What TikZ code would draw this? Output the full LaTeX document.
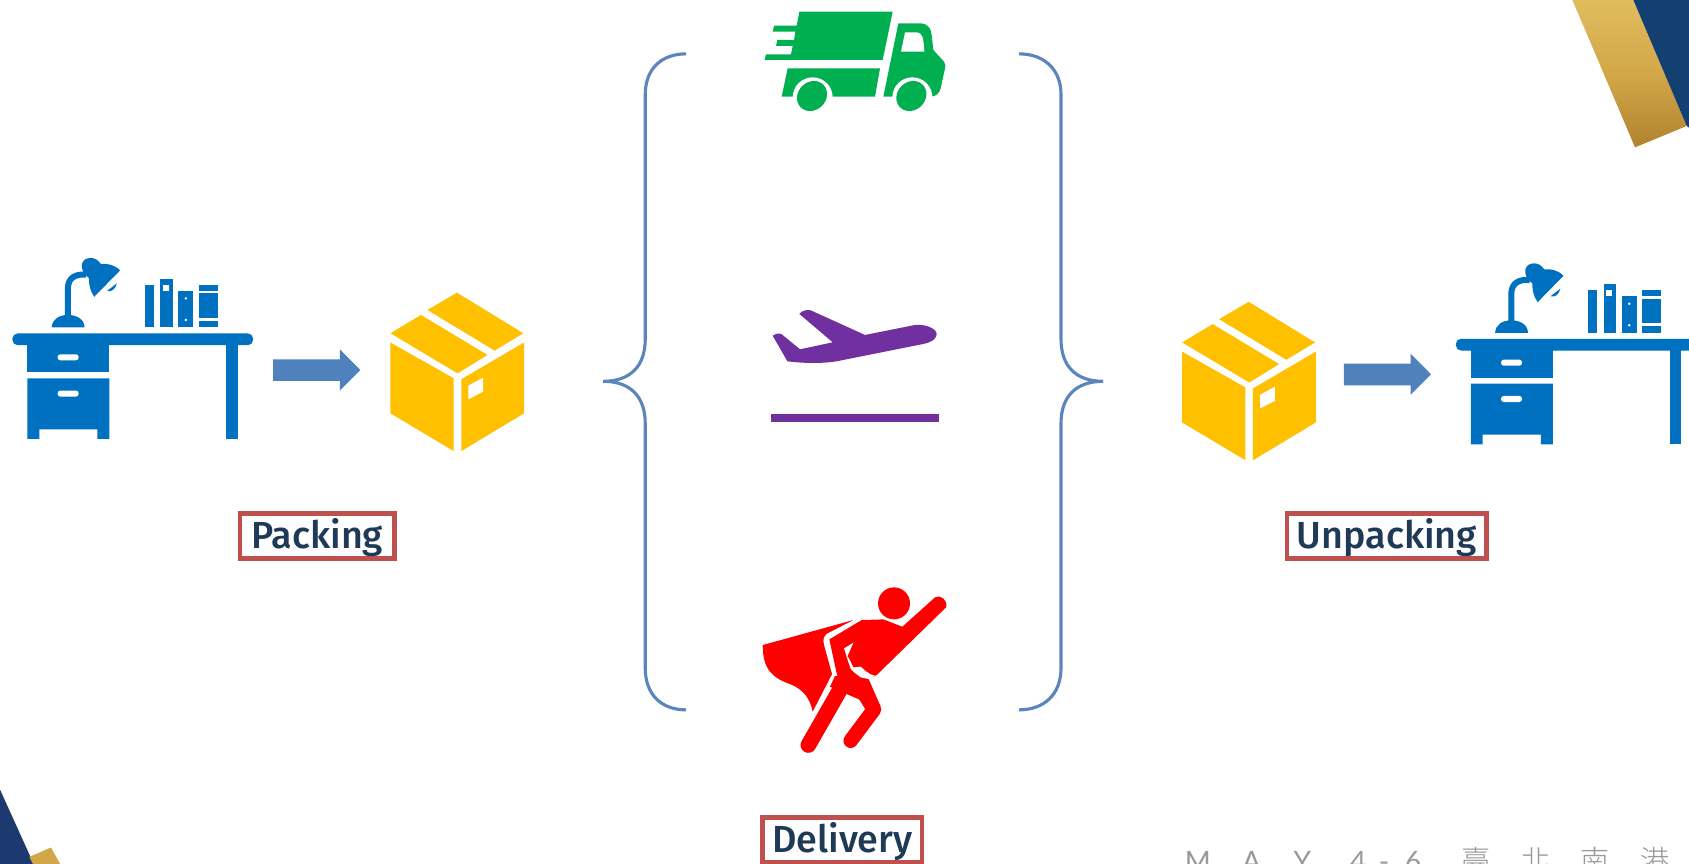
\documentclass[tikz,border=0pt]{standalone}
\usepackage{fontspec}
\newfontfamily\labfont{Fira Sans Medium}
\newfontfamily\footfont{Lato}
\newfontfamily\cjkfoot{Noto Sans CJK TC Light}
\definecolor{deskblue}{HTML}{0070C0}
\definecolor{boxgold}{HTML}{FFC000}
\definecolor{arrowblue}{HTML}{4F81BD}
\definecolor{bracecol}{HTML}{5B85BD}
\definecolor{framered}{HTML}{C0504D}
\definecolor{labink}{HTML}{1F3A56}
\definecolor{truckgreen}{HTML}{00B050}
\definecolor{planepurple}{HTML}{7030A0}
\definecolor{cornerblue}{HTML}{134070}
\definecolor{cornerblueb}{HTML}{1C3A70}
\definecolor{goldtop}{HTML}{E0BC5E}
\definecolor{goldbot}{HTML}{B0822E}
\definecolor{goldflat}{HTML}{D2A748}
\tikzset{
  x=1pt,y=-1pt,
  labelframe/.style={draw=framered,line width=4.2pt,fill=white,inner sep=0pt,text=labink,font=\labfont\fontsize{35}{38}\selectfont,anchor=center,minimum height=41.5pt,text height=32pt,text depth=8pt},
  bracestroke/.style={draw=bracecol,line width=2.9pt},
  footchar/.style={text=black!40,inner sep=0pt,anchor=base,font=\footfont\fontsize{26}{28}\selectfont},
  footcjk/.style={text=black!40,inner sep=0pt,anchor=base,font=\cjkfoot\fontsize{27}{28}\selectfont},
}
\newcommand{\deskicon}[2]{%
\begin{scope}[shift={(#1,#2)}]
 \fill[deskblue,rounded corners=5pt] (11.5,309.5) rectangle (235,320.5);
 \fill[deskblue] (25.5,316) rectangle (101.5,345.6);
 \fill[deskblue] (25.5,351.2) -- (101.5,351.2) -- (101.5,407.5) -- (90.5,407.5) -- (90.5,398.5) -- (36.5,398.5) -- (36.5,407.5) -- (25.5,407.5) -- cycle;
 \fill[white,rounded corners=2.5pt] (53.5,328.9) rectangle (73,334.5);
 \fill[white,rounded corners=2.5pt] (53.5,362.6) rectangle (73,368.2);
 \fill[deskblue] (210,316) rectangle (221,407.5);
 \fill[deskblue] (48,304) .. controls (48.5,296) and (55,292.4) .. (63,292.4) .. controls (71,292.4) and (78.3,296) .. (78.5,304) -- cycle;
 \draw[deskblue,line width=5.6pt] (63,294) -- (63,268) .. controls (63,258) and (70,254) .. (80,255);
 \fill[deskblue] (76,248) .. controls (75.5,241) and (80.5,239.5) .. (84.5,239.5) .. controls (88.5,239.5) and (91.5,242) .. (93.5,245) .. controls (100.5,244.5) and (106.5,246) .. (111.5,251) -- (87.5,275.5) .. controls (83.5,270) and (82.5,264) .. (82.5,258) .. controls (78.5,255) and (76.5,252) .. (76,248) -- cycle;
 \fill[deskblue] (99.5,270) .. controls (103.5,271.5) and (107.5,268) .. (108.5,263) -- cycle;
 \fill[deskblue] (134.5,264.6) rectangle (142.8,304);
 \fill[deskblue] (148.8,259) rectangle (160.2,304);
 \fill[white] (151.2,264.6) rectangle (156.8,270.1);
 \fill[deskblue] (165.5,270.1) rectangle (179.5,304);
 \fill[white] (172.5,277) circle (1.3pt) (172.5,297) circle (1.3pt);
 \fill[deskblue] (184.8,264.6) rectangle (202.2,270.1);
 \fill[deskblue] (184.8,272.3) rectangle (202.2,294.9);
 \fill[deskblue] (184.8,298) rectangle (202.2,304);
\end{scope}}
\newcommand{\boxicon}[2]{%
\begin{scope}[shift={(#1,#2)}]
 \fill[boxgold] (362.5,309.4) -- (390.8,292.4) -- (452.5,329.5) -- (424.8,346.6) -- cycle;
 \fill[boxgold] (396.8,287.8) -- (424.2,271.7) -- (485.8,309.4) -- (459.2,325.5) -- cycle;
 \fill[boxgold] (362.5,318) -- (421.2,351.2) -- (421.2,418.8) -- (362.5,383.7) -- cycle;
 \fill[boxgold] (428.2,352.1) -- (486.5,318) -- (486.5,383.7) -- (428.2,418.8) -- cycle;
 \fill[white] (434.8,358) -- (448.5,350.6) -- (448.5,363.6) -- (434.8,370.7) -- cycle;
\end{scope}}
\newcommand{\arrowicon}[2]{%
\begin{scope}[shift={(#1,#2)}]
 \fill[arrowblue] (253.5,333.6) -- (315.5,333.6) -- (315.5,324.3) -- (334.5,343.5) -- (315.5,362.6) -- (315.5,353.7) -- (253.5,353.7) -- cycle;
\end{scope}}
\begin{document}
\begin{tikzpicture}
\useasboundingbox (0,0) rectangle (1568,802);
\fill[white] (0,0) rectangle (1568,802);
\clip (0,0) rectangle (1568,802);
% corners
\begin{scope}[shift={(1420.4,0)},scale=0.30945]
 \shade[top color=goldtop,bottom color=goldbot,middle color=goldflat] (127,0) -- (310,0) -- (470,378) -- (315,442) -- cycle;
 \fill[cornerblue] (310,0) -- (480,0) -- (480,385) -- (470,378) -- cycle;
\end{scope}
\begin{scope}[shift={(0,715)},scale=0.30945]
 \fill[cornerblueb] (0,58) -- (105,290) -- (0,290) -- cycle;
 \fill[goldflat] (88,260) -- (153,232) -- (185,290) -- (103,290) -- cycle;
\end{scope}
% left and right groups
\deskicon{0}{0}
\arrowicon{0}{0}
\boxicon{0}{0}
\boxicon{735}{8.5}
\arrowicon{994}{4}
\deskicon{1340}{5}
% braces
\draw[bracestroke] (637,50) .. controls (614,50) and (599,64) .. (599,88) -- (599,315) .. controls (599,340) and (585,354) .. (560,354) .. controls (585,354) and (599,368) .. (599,393) -- (599,620) .. controls (599,645) and (614,659) .. (637,659);
\draw[bracestroke] (946,50) .. controls (969,50) and (985,64) .. (985,88) -- (985,315) .. controls (985,340) and (999,354) .. (1024,354) .. controls (999,354) and (985,368) .. (985,393) -- (985,620) .. controls (985,645) and (969,659) .. (946,659);
% truck
\begin{scope}[shift={(687,0)},scale=0.30945]
 \fill[truckgreen] (178,35) -- (458,35) -- (428,180) -- (74,180) -- (78,163) -- (153,163) -- (158,138) -- (108,138) -- (112,120) -- (162,120) -- (166,95) -- (98,95) -- (102,77) -- (170,77) -- cycle;
 \fill[truckgreen] (143,205) -- (420,205) -- (405,290) -- (125,290) -- cycle;
 \fill[truckgreen] (475,70) -- (540,70) .. controls (562,70) and (574,85) .. (575,105) -- (580,150) -- (612,185) .. controls (618,192) and (616,200) .. (615,205) -- (602,265) .. controls (598,280) and (588,290) .. (570,290) -- (430,290) -- cycle;
 \fill[white] (495,97) -- (530,97) .. controls (545,97) and (551,110) .. (553,155) -- (483,155) -- cycle;
 \fill[white] (218,292) circle (60);
 \fill[white] (517,292) circle (60);
 \fill[truckgreen,shift={(216,288)},rotate=45] (0,0) ellipse (48 and 42);
 \fill[truckgreen,shift={(514,288)},rotate=45] (0,0) ellipse (48 and 42);
\end{scope}
% plane
\begin{scope}[shift={(696.3,269.2)},scale=0.30945]
 \fill[planepurple] (68,137) .. controls (75,132) and (85,128) .. (95,133) -- (150,178) -- (248,157) -- (148,72) .. controls (155,63) and (168,58) .. (182,61) -- (345,135) -- (495,105) .. controls (525,102) and (560,115) .. (560,133) .. controls (558,150) and (540,158) .. (520,162) -- (270,212) .. controls (220,222) and (160,220) .. (112,214) -- cycle;
 \fill[planepurple] (62,372) rectangle (568,395);
\end{scope}
% hero
\begin{scope}[shift={(687,529.2)},scale=0.30945]
 \fill[red] (68,225) -- (340,150) -- (262,190) .. controls (250,198) and (248,210) .. (252,225) -- (276,312) -- (218,425) .. controls (210,385) and (190,358) .. (150,342) .. controls (100,325) and (68,300) .. (68,225) -- cycle;
 \fill[red] (462,100) circle (48);
 \fill[red] (268,208) -- (365,150) -- (430,148) -- (487,170) -- (585,82) .. controls (600,72) and (625,90) .. (618,112) -- (410,315) -- (385,325) -- (345,340) -- (295,325) -- (290,310) -- cycle;
 \draw[red,line width=14.5pt,line cap=round] (205,525) -- (308,345);
 \fill[red] (285,318) -- (385,325) -- (422,410) -- (380,398) -- (320,372) -- (270,350) -- cycle;
 \draw[red,line width=13.5pt,line cap=round,line join=round] (350,335) -- (402,418) -- (332,512);
 \fill[white] (312,235) -- (340,218) -- (321,262) -- cycle;
 \fill[white] (319,258) -- (325,262) -- (340,292) -- (362,290) -- (378,304) -- (392,313) -- (404,316) -- (386,327) -- (362,322) -- (346,310) -- (332,296) -- cycle;
\end{scope}
% labels
\node[labelframe,minimum width=143pt] (packing) at (294.5,497.5) {Packing};
\node[labelframe,minimum width=185pt] (unpacking) at (1287.5,497.5) {Unpacking};
\node[labelframe,minimum width=148pt] (delivery) at (782,779.5) {Delivery};
% footer
\node[footchar] (fm) at (1112,809) {M};
\node[footchar] (fa) at (1162,809) {A};
\node[footchar] (fy) at (1209,809) {Y};
\node[footchar] (f4) at (1261,809) {4};
\node[footchar] (fd) at (1285,809) {-};
\node[footchar] (f6) at (1312,809) {6};
\node[footcjk] (c1) at (1370,809) {臺};
\node[footcjk] (c2) at (1426,809) {北};
\node[footcjk] (c3) at (1481,809) {南};
\node[footcjk] (c4) at (1536,809) {港};
\end{tikzpicture}
\end{document}
